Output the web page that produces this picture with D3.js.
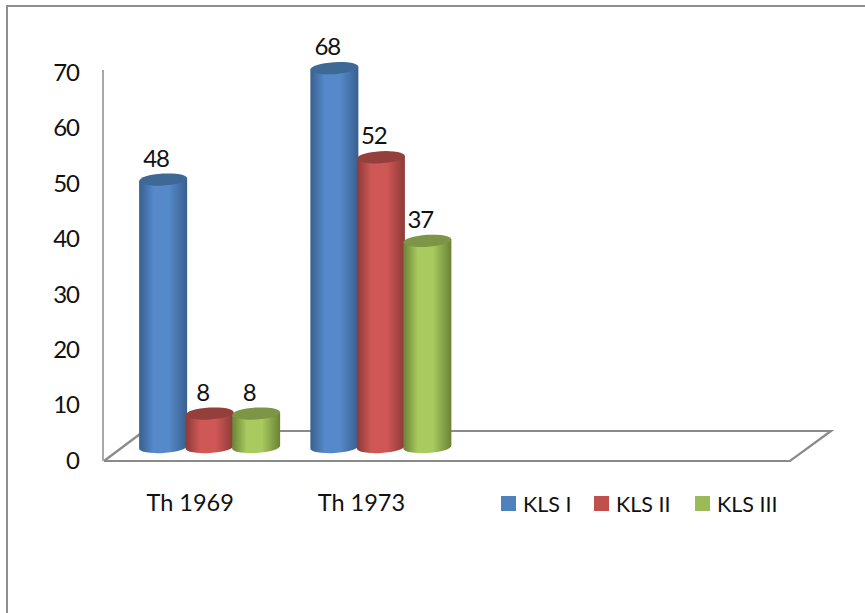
<!DOCTYPE html>
<html><head><meta charset="utf-8">
<script src="https://cdn.jsdelivr.net/npm/d3@7"></script>
<style>html,body{margin:0;padding:0;background:#fff}svg{display:block}text{font-family:Lato,"Open Sans",sans-serif;fill:#111}</style>
</head><body><svg id="c" width="865" height="613"></svg>
<script>
const categories = ["Th 1969", "Th 1973", "", " "];
const seriesNames = ["KLS I", "KLS II", "KLS III"];
const klsI = [48, 68];
const klsII = [6, 52];      // drawn height of the short bars in the picture
const klsIII = [6, 37];
const labelsI = ["48", "68"];
const labelsII = ["8", "52"];
const labelsIII = ["8", "37"];
const yTicks = [0, 10, 20, 30, 40, 50, 60, 70];
const edgeColors = ["#38608f", "#8c3a38", "#6a8236"];
const midColors = ["#5589c9", "#cf5856", "#a8ca5e"];
const topColors = ["#3e6896", "#953f3d", "#7c9546"];
const legendColors = ["#4f81bd", "#c0504d", "#9bbb59"];

const seriesValues = [klsI, klsII, klsIII];
const seriesLabels = [labelsI, labelsII, labelsIII];
const svg = d3.select("#c");
const gridColor = "#8a8a8a";

// outer frame
const frame = d3.line();
svg.append("path").attr("d", frame([[7, 613], [7, 6], [865, 6]]))
  .attr("fill", "none").attr("stroke", "#8f8f8f").attr("stroke-width", 2);

const x = d3.scaleBand().domain(categories).range([105, 790]);
const inner = d3.scalePoint().domain(seriesNames).range([-46.5, 46.5]);
const yWall = d3.scaleLinear().domain([0, 70]).range([460, 72]);
const yBar = d3.scaleLinear().domain([0, 70]).range([447, 57]);
const barShift = 19, rx = 24, ry = 6, tilt = 3.5;
const dy = rx * Math.sin(tilt * Math.PI / 180);

// floor
const floor = [[[104, 461], [790, 461], [831, 431], [433, 431]], [[104, 461], [140, 434]], [[275, 431], [315, 431]]];
svg.append("g").selectAll("path").data(floor).join("path")
  .attr("d", d => frame(d)).attr("fill", "none").attr("stroke", gridColor).attr("stroke-width", 2.2);

// value axis
const axis = d3.axisLeft(yWall).tickValues(yTicks).tickSize(0).tickPadding(24);
const ag = svg.append("g").attr("transform", "translate(103,0)").call(axis);
ag.select(".domain").attr("stroke", "#a8a8a8").attr("stroke-width", 2).attr("d", "M0,70V461");
ag.selectAll("text").attr("font-size", 24).style("font-family", "Lato").style("letter-spacing", "-1px").attr("dy", "0.35em");

// category labels
svg.append("g").selectAll("text").data(categories.slice(0, 2)).join("text")
  .attr("x", d => x(d) + x.bandwidth() / 2 - 0.5).attr("y", 511)
  .attr("text-anchor", "middle").attr("font-size", 23.5).text(d => d);

// gradients
const defs = svg.append("defs");
seriesNames.forEach((s, i) => {
  const g = defs.append("linearGradient").attr("id", "g" + i);
  [[0, edgeColors[i]], [0.3, midColors[i]], [0.62, midColors[i]], [1, edgeColors[i]]].forEach(([o, c]) =>
    g.append("stop").attr("offset", o).attr("stop-color", c));
});

// cylinders
seriesNames.forEach((s, i) => {
  const g = svg.append("g");
  categories.slice(0, 2).forEach((c, j) => {
    const cx = x(c) + x.bandwidth() / 2 + barShift + inner(s);
    const yt = yBar(seriesValues[i][j]), yb = yBar(0);
    g.append("path")
      .attr("d", `M${cx - rx},${yt + dy}L${cx - rx},${yb + dy}A${rx},${ry} ${-tilt} 0 0 ${cx + rx},${yb - dy}L${cx + rx},${yt - dy}Z`)
      .attr("fill", `url(#g${i})`);
    g.append("ellipse").attr("cx", cx).attr("cy", yt).attr("rx", rx).attr("ry", ry)
      .attr("transform", `rotate(${-tilt} ${cx} ${yt})`).attr("fill", topColors[i]);
  });
});

// data labels
seriesNames.forEach((s, i) => {
  categories.slice(0, 2).forEach((c, j) => {
    svg.append("text")
      .attr("x", x(c) + x.bandwidth() / 2 + barShift + inner(s) - 7)
      .attr("y", yBar(seriesValues[i][j]) - 13)
      .attr("text-anchor", "middle").attr("font-size", 24).style("letter-spacing", "-1px").text(seriesLabels[i][j]);
  });
});

// legend
const legendX = d3.scaleOrdinal().domain(seriesNames).range([501, 594, 695]);
const lg = svg.append("g").selectAll("g").data(seriesNames).join("g")
  .attr("transform", d => `translate(${legendX(d)},496)`);
lg.append("rect").attr("width", 15).attr("height", 15).attr("fill", (d, i) => legendColors[i]);
lg.append("text").attr("x", 22).attr("y", 15.5).attr("font-size", 21.5).text(d => d);
</script></body></html>
